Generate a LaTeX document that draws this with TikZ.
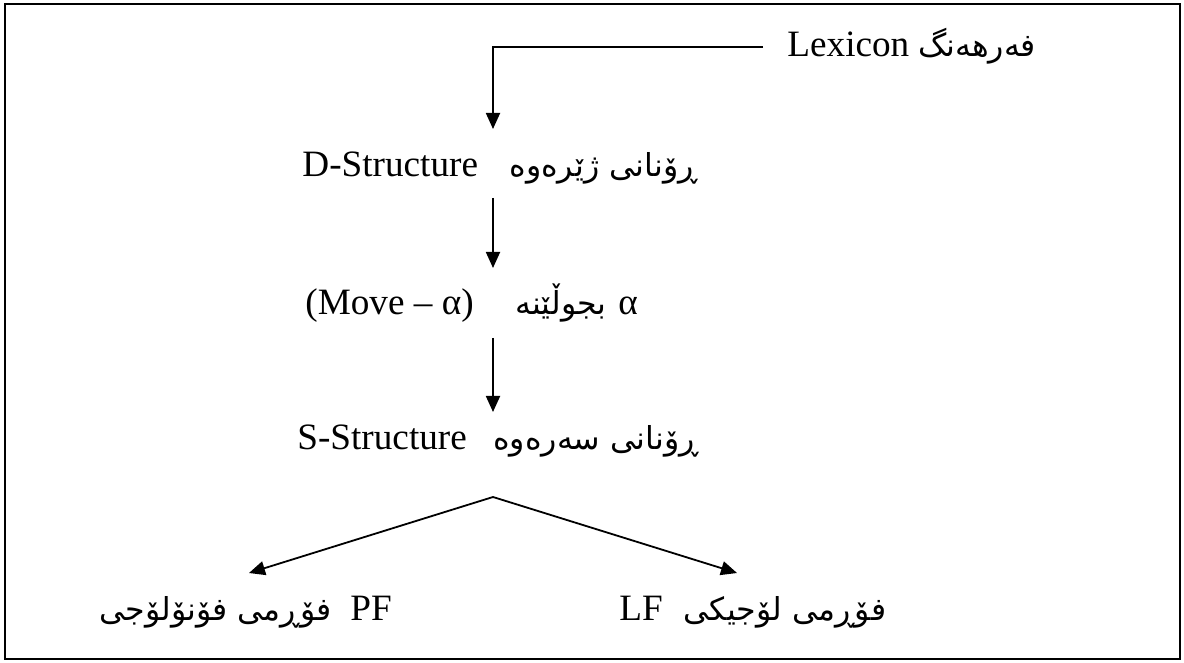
\documentclass[tikz,border=0pt]{standalone}
\usepackage{fontspec}
\setmainfont{Liberation Serif}
\newfontfamily\arabicfont[Script=Arabic]{DejaVu Sans}
\TeXXeTstate=1
\usetikzlibrary{arrows.meta}
\begin{document}
\begin{tikzpicture}[x=0.5pt,y=-0.5pt,
  lat/.style={inner sep=0pt,font=\fontsize{18.6}{22}\selectfont},
  kur/.style={inner sep=0pt,font=\arabicfont\fontsize{15.8}{20}\selectfont},
  arr/.style={line width=0.9pt,-{Triangle[length=8pt,width=7pt]}}]
\useasboundingbox (0,0) rectangle (1184,663);
\draw[line width=0.8pt] (5,4) rectangle (1180,659);
% texts
\node[lat,anchor=base west] (lex) at (787,57) {Lexicon};
\node[kur,anchor=base west] (lexk) at ([xshift=4pt]lex.base east) {\beginR فەرهەنگ\endR};
\node[lat,anchor=base west] (ds) at (302,177) {D-Structure};
\node[kur,anchor=base east] (dsk) at (698,177) {\beginR ڕۆنانی ژێرەوە\endR};
\node[lat,anchor=base west] (mv) at (305,315) {(Move – α)};
\node[kur,anchor=base east] (mvk) at (607,315) {\beginR بجوڵێنە\endR};
\node[lat,anchor=base west] (al) at (618,315) {α};
\node[lat,anchor=base west] (ss) at (297,450) {S-Structure};
\node[kur,anchor=base east] (ssk) at (699,450) {\beginR ڕۆنانی سەرەوە\endR};
\node[kur,anchor=base east] (pfk) at (332,620) {\beginR فۆڕمی فۆنۆلۆجی\endR};
\node[lat,anchor=base west] (pf) at (350,620) {PF};
\node[lat,anchor=base west] (lf) at (619,620) {LF};
\node[kur,anchor=base west] (lfk) at ([xshift=10pt]lf.base east) {\beginR فۆڕمی لۆجیکی\endR};
% connector points
\coordinate (lexend) at (763,47);
\coordinate (corner) at (493,47);
\coordinate (dstop) at (493,129);
\coordinate (dsbot) at (493,198);
\coordinate (mvtop) at (493,268);
\coordinate (mvbot) at (493,338);
\coordinate (sstop) at (493,412);
\coordinate (apex) at (493,497);
\coordinate (pftop) at (249,573);
\coordinate (lftop) at (737,573);
% connectors
\draw[arr] (lexend) -- (corner) -- (dstop);
\draw[arr] (dsbot) -- (mvtop);
\draw[arr] (mvbot) -- (sstop);
\draw[arr] (apex) -- (pftop);
\draw[arr] (apex) -- (lftop);
\end{tikzpicture}
\end{document}
